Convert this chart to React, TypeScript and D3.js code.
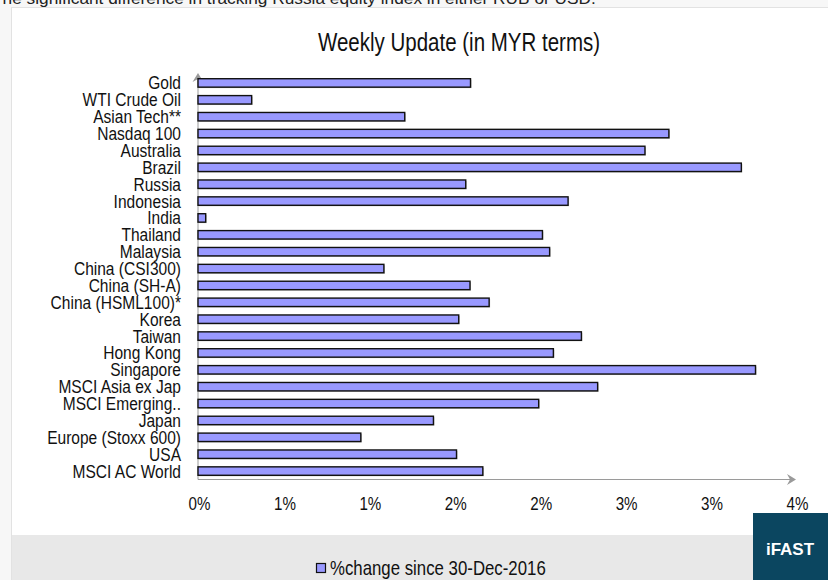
import React, { useEffect, useRef } from 'react';
import * as d3 from 'd3';

const categories = [
  'Gold', 'WTI Crude Oil', 'Asian Tech**', 'Nasdaq 100', 'Australia', 'Brazil', 'Russia',
  'Indonesia', 'India', 'Thailand', 'Malaysia', 'China (CSI300)', 'China (SH-A)',
  'China (HSML100)*', 'Korea', 'Taiwan', 'Hong Kong', 'Singapore', 'MSCI Asia ex Jap',
  'MSCI Emerging..', 'Japan', 'Europe (Stoxx 600)', 'USA', 'MSCI AC World',
];
const changeSince = [
  1.595, 0.314, 1.21, 2.756, 2.616, 3.18, 1.567,
  2.166, 0.045, 2.016, 2.058, 1.088, 1.592,
  1.704, 1.526, 2.244, 2.08, 3.263, 2.339,
  1.994, 1.378, 0.953, 1.513, 1.667,
];
const xTicks = [0, 0.5, 1, 1.5, 2, 2.5, 3, 3.5];

const W = 828;
const H = 580;
const FONT = '"Liberation Sans", Arial, sans-serif';
const NARROW = 0.82; // no narrow face installed, squeeze the regular one

export default function App() {
  const svgRef = useRef<SVGSVGElement>(null);

  useEffect(() => {
    if (!svgRef.current) return;
    const svg = d3.select(svgRef.current);
    svg.selectAll('*').remove();

    const narrowAt = (px: number, py: number, k = NARROW) => `translate(${px},${py}) scale(${k},1)`;

    // page background + panel
    svg.append('rect').attr('width', W).attr('height', H).attr('fill', '#f7f7f7');
    svg.append('rect').attr('x', 11.5).attr('y', 7.5).attr('width', W).attr('height', H)
      .attr('fill', '#ffffff').attr('stroke', '#e2e2e2');
    svg.append('rect').attr('x', 12).attr('y', 535).attr('width', W).attr('height', H - 535)
      .attr('fill', '#e8e8e8');

    // clipped caption line from the page above
    svg.append('text')
      .attr('x', -8).attr('y', 4)
      .attr('font-family', FONT)
      .attr('font-size', 17.3).attr('fill', '#222')
      .text('The significant difference in tracking Russia equity index in either RUB or USD.');

    svg.append('text')
      .attr('transform', narrowAt(459, 51))
      .attr('text-anchor', 'middle')
      .attr('font-family', FONT).attr('font-size', 25).attr('fill', '#111')
      .text('Weekly Update (in MYR terms)');

    const x = d3.scaleLinear().domain([0, 3.5]).range([198, 796]);
    const y = d3.scaleBand().domain(categories).range([74.5, 479.5]).paddingInner(0.5).paddingOuter(0.25);

    // axes
    const axisColor = '#9a9a9a';
    svg.append('line').attr('x1', 198).attr('x2', 198).attr('y1', 479.5).attr('y2', 76)
      .attr('stroke', axisColor);
    svg.append('path').attr('d', 'M198,73 L192.5,82 L198,79 L203.5,82 Z').attr('fill', axisColor);
    svg.append('line').attr('x1', 198).attr('x2', 792).attr('y1', 479.5).attr('y2', 479.5)
      .attr('stroke', axisColor);
    svg.append('path').attr('d', 'M796,479.5 L787,474 L790,479.5 L787,485 Z').attr('fill', axisColor);

    svg.append('g').selectAll('text')
      .data(xTicks)
      .enter().append('text')
      .attr('transform', d => narrowAt(x(d) + 1.5, 510))
      .attr('text-anchor', 'middle')
      .attr('font-family', FONT).attr('font-size', 18.5).attr('fill', '#111')
      .text(d => `${Math.round(d)}%`);

    svg.append('g').selectAll('text')
      .data(categories)
      .enter().append('text')
      .attr('transform', d => narrowAt(181, y(d)! + y.bandwidth() / 2 + 6.5, 0.84))
      .attr('text-anchor', 'end')
      .attr('font-family', FONT).attr('font-size', 18.5).attr('fill', '#111')
      .text(d => d);

    // bars
    const bars = svg.append('g');
    bars.selectAll('.shadow')
      .data(changeSince)
      .enter().append('rect')
      .attr('class', 'shadow')
      .attr('x', x(0) + 1)
      .attr('y', (_, i) => y(categories[i])! + 1)
      .attr('width', d => x(d) - x(0))
      .attr('height', y.bandwidth())
      .attr('fill', '#c4c4c4');
    bars.selectAll('.bar')
      .data(changeSince)
      .enter().append('rect')
      .attr('class', 'bar')
      .attr('x', x(0))
      .attr('y', (_, i) => y(categories[i])!)
      .attr('width', d => x(d) - x(0))
      .attr('height', y.bandwidth())
      .attr('fill', '#9999ff')
      .attr('stroke', '#111')
      .attr('stroke-width', 1.4);

    // legend
    svg.append('rect').attr('x', 316.5).attr('y', 563.5).attr('width', 9).attr('height', 9)
      .attr('fill', '#9999ff').attr('stroke', '#111').attr('stroke-width', 1.2);
    svg.append('text')
      .attr('transform', narrowAt(330, 575))
      .attr('font-family', FONT).attr('font-size', 20.5).attr('fill', '#111')
      .text('%change since 30-Dec-2016');

    // logo
    svg.append('rect').attr('x', 753).attr('y', 513).attr('width', W - 753).attr('height', H - 513)
      .attr('fill', '#0b4660');
    svg.append('text')
      .attr('x', 790).attr('y', 555)
      .attr('text-anchor', 'middle')
      .attr('font-family', FONT)
      .attr('font-weight', 'bold').attr('font-size', 17).attr('fill', '#ffffff')
      .text('iFAST');
  }, []);

  return (
    <svg
      ref={svgRef}
      width={W}
      height={H}
      style={{ position: 'absolute', left: 0, top: 0, display: 'block' }}
    />
  );
}
